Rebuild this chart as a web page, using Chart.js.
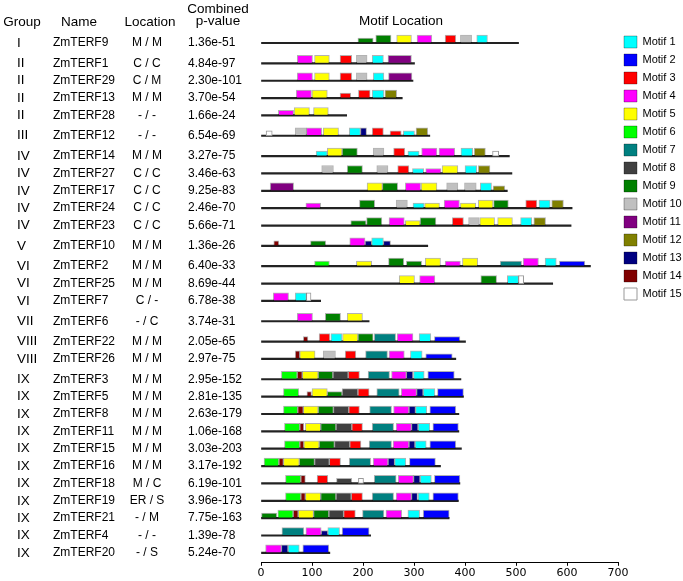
<!DOCTYPE html>
<html>
<head>
<meta charset="utf-8">
<script src="https://cdn.jsdelivr.net/npm/chart.js@4.4.1/dist/chart.umd.min.js"></script>
<style>
  html, body { margin: 0; padding: 0; background: #fff; }
  canvas { display: block; }
</style>
</head>
<body>
<canvas id="motifs" width="683" height="581"></canvas>
<script>
// ---- data ----
const groups = ['I', 'II', 'II', 'II', 'II', 'III', 'IV', 'IV', 'IV', 'IV', 'IV', 'V', 'VI', 'VI', 'VI', 'VII',
  'VIII', 'VIII', 'IX', 'IX', 'IX', 'IX', 'IX', 'IX', 'IX', 'IX', 'IX', 'IX', 'IX'];
const names = ['ZmTERF9', 'ZmTERF1', 'ZmTERF29', 'ZmTERF13', 'ZmTERF28', 'ZmTERF12', 'ZmTERF14', 'ZmTERF27',
  'ZmTERF17', 'ZmTERF24', 'ZmTERF23', 'ZmTERF10', 'ZmTERF2', 'ZmTERF25', 'ZmTERF7', 'ZmTERF6', 'ZmTERF22',
  'ZmTERF26', 'ZmTERF3', 'ZmTERF5', 'ZmTERF8', 'ZmTERF11', 'ZmTERF15', 'ZmTERF16', 'ZmTERF18', 'ZmTERF19',
  'ZmTERF21', 'ZmTERF4', 'ZmTERF20'];
const locations = ['M / M', 'C / C', 'C / M', 'M / M', '- / -', '- / -', 'M / M', 'C / C', 'C / C', 'C / C',
  'C / C', 'M / M', 'M / M', 'M / M', 'C / -', '- / C', 'M / M', 'M / M', 'M / M', 'M / M', 'M / M', 'M / M',
  'M / M', 'M / M', 'M / C', 'ER / S', '- / M', '- / -', '- / S'];
const pValues = ['1.36e-51', '4.84e-97', '2.30e-101', '3.70e-54', '1.66e-24', '6.54e-69', '3.27e-75',
  '3.46e-63', '9.25e-83', '2.46e-70', '5.66e-71', '1.36e-26', '6.40e-33', '8.69e-44', '6.78e-38', '3.74e-31',
  '2.05e-65', '2.97e-75', '2.95e-152', '2.81e-135', '2.63e-179', '1.06e-168', '3.03e-203', '3.17e-192',
  '6.19e-101', '3.96e-173', '7.75e-163', '1.39e-78', '5.24e-70'];
// protein length (aa)
const lengths = [505, 301, 298, 277, 168, 331, 487, 492, 483, 610, 608, 327, 646, 572, 117, 212, 401, 382,
  392, 397, 388, 388, 393, 352, 390, 387, 369, 215, 135];
// motif hits per protein: [motif, start, end, weak(1 = lower box)]
const motifHits = [
  [[9,190,220,1],[9,225,255],[5,266,295],[4,306,335],[3,361,382],[10,391,413],[1,423,444]],
  [[4,71,101],[5,105,134],[3,155,178],[10,187,208],[1,218,240],[11,249,295]],
  [[4,71,101],[5,105,134],[3,155,178],[10,187,208],[1,220,241],[11,250,296]],
  [[4,69,99],[5,100,130],[3,155,176,1],[3,191,214],[1,218,241],[12,243,266]],
  [[4,34,64,1],[5,65,95],[5,103,132]],
  [[15,10,22,1],[10,67,89],[4,89,119],[5,122,152],[1,173,195],[13,195,207],[3,218,240],[3,253,275,1],[1,279,301,1],[12,304,327]],
  [[1,108,130,1],[5,130,159],[9,159,189],[10,220,241],[3,260,282],[1,288,310,1],[4,315,345],[4,349,380],[1,392,415],[12,418,440],[15,454,466,1]],
  [[10,119,142],[9,169,199],[10,227,249],[3,268,290],[1,297,319,1],[4,323,353,1],[5,355,386],[1,400,423],[12,426,449]],
  [[11,18,64],[5,208,238],[9,238,268],[4,283,313],[5,314,345],[10,364,386],[10,399,422],[1,430,452],[12,455,478,1]],
  [[4,88,117,1],[9,193,223],[10,265,287],[1,298,320,1],[5,321,350,1],[4,359,389],[5,391,421,1],[5,426,455],[9,456,485],[3,519,541],[1,545,567],[12,570,593]],
  [[9,176,206,1],[9,207,237],[4,251,281],[5,283,312,1],[9,312,343],[3,375,397],[10,407,428],[5,429,458],[5,464,493],[1,509,531],[12,535,558]],
  [[14,25,35,1],[9,97,127,1],[4,174,204],[13,204,217,1],[1,217,240],[13,240,254,1]],
  [[6,105,134,1],[5,187,217,1],[9,250,280],[9,285,315,1],[5,322,352],[4,361,391,1],[5,395,425],[7,469,511,1],[4,514,544],[1,557,579],[2,585,635,1]],
  [[5,271,301],[4,311,341],[9,431,462],[1,483,505],[15,505,515]],
  [[4,24,54],[1,67,89],[15,89,98]],
  [[4,71,101],[9,126,156],[5,169,199]],
  [[14,83,92,1],[3,114,135],[1,137,159],[5,160,190],[9,190,220],[7,222,264],[4,267,298],[1,310,333],[2,340,390,1]],
  [[14,67,76],[5,76,106],[10,122,146],[3,165,186],[7,205,248],[4,251,281],[1,293,316],[2,323,375,1]],
  [[6,40,71],[14,71,81],[5,81,112],[9,112,141],[8,141,171],[3,171,193],[7,210,252],[4,256,285],[13,285,298],[1,299,320],[2,327,379]],
  [[6,44,74],[14,90,99,1],[5,100,130],[9,130,159,1],[8,159,190],[3,190,212],[7,227,271],[4,275,305],[13,305,318],[1,318,341],[2,346,397]],
  [[6,44,72],[14,72,83],[5,83,112],[9,112,142],[8,142,172],[3,172,193],[7,213,256],[4,260,290],[13,290,303],[1,303,325],[2,331,382]],
  [[6,46,76],[14,76,84],[5,87,117],[9,117,147],[8,147,178],[3,178,199],[7,218,260],[4,265,295],[13,295,308],[1,308,331],[2,337,387]],
  [[6,46,76],[14,76,84],[5,84,114],[9,114,144],[8,144,174],[3,174,196],[7,212,256],[4,259,290],[13,290,302],[1,302,324],[2,331,382]],
  [[6,6,35],[14,35,44],[5,44,75],[9,75,105],[8,105,134],[3,134,156],[7,173,215],[4,220,249],[13,249,262],[1,262,284],[2,291,342]],
  [[6,48,78],[14,78,87],[3,110,131],[8,148,178,1],[15,191,201,1],[7,222,265],[4,269,299],[13,299,312],[1,312,334],[2,340,390]],
  [[6,48,78],[14,78,87],[5,87,117],[9,117,147],[8,147,177],[3,177,199],[7,218,260],[4,265,295],[13,295,307],[1,308,330],[2,337,387]],
  [[9,0,31,1],[6,33,63],[14,63,73],[5,73,103],[9,103,133],[8,133,162],[3,162,185],[7,199,241],[4,245,276],[1,288,311],[2,318,369]],
  [[7,41,84],[4,88,118],[13,118,131,1],[1,131,154],[2,159,212]],
  [[4,9,40],[13,40,53],[1,53,75],[2,82,133]]
];
const motifLabels = ['Motif 1', 'Motif 2', 'Motif 3', 'Motif 4', 'Motif 5', 'Motif 6', 'Motif 7', 'Motif 8',
  'Motif 9', 'Motif 10', 'Motif 11', 'Motif 12', 'Motif 13', 'Motif 14', 'Motif 15'];
const xTicks = [0, 100, 200, 300, 400, 500, 600, 700];

// ---- styles ----
const motifColors = ['#00ffff', '#0000ff', '#ff0000', '#ff00ff', '#ffff00', '#00ff00', '#008080', '#404040',
  '#008000', '#c0c0c0', '#800080', '#808000', '#000080', '#800000', '#ffffff'];
const FONT = '"Liberation Sans", Arial, sans-serif';
const PLOT_TOP = 30, PLOT_BOTTOM = 565;
const GROUP_GAP = 0.17;
const BOX_H = 8, WEAK_H = 5;

// row positions: one unit per protein, a little extra between groups
const rowPos = [];
let gapCount = 0;
groups.forEach((g, i) => {
  if (i > 0 && g !== groups[i - 1]) gapCount++;
  rowPos.push(i + gapCount * GROUP_GAP);
});
const yMin = -0.75;
const yMax = rowPos[rowPos.length - 1] + 0.57;
const pxPerRow = (PLOT_BOTTOM - PLOT_TOP) / (yMax - yMin);

function motifData(m, weak) {
  const h = weak ? WEAK_H : BOX_H;
  const out = [];
  motifHits.forEach((hits, i) => {
    hits.forEach(hit => {
      if (hit[0] === m && !!hit[3] === weak) {
        // box sits on top of the protein line
        out.push({ x: [hit[1], hit[2]], y: rowPos[i] - h / 2 / pxPerRow });
      }
    });
  });
  return out;
}

const datasets = [];
[false, true].forEach(weak => {
  motifLabels.forEach((label, k) => {
    datasets.push({
      label,
      data: motifData(k + 1, weak),
      backgroundColor: motifColors[k],
      borderColor: k === 14 ? '#999' : 'rgba(0,0,0,0.3)',
      borderWidth: 1,
      borderSkipped: false,
      barThickness: weak ? WEAK_H : BOX_H,
      stack: 'row',
      order: 0,
      inLegend: !weak
    });
  });
});
datasets.push({
  label: 'length',
  data: lengths.map((len, i) => ({ x: [0, len], y: rowPos[i] })),
  backgroundColor: '#222',
  borderWidth: 0,
  barThickness: 1.5,
  stack: 'row',
  order: 1,
  inLegend: false
});

const textColumns = {
  id: 'textColumns',
  afterDraw(chart) {
    const ctx = chart.ctx;
    const y = chart.scales.y;
    ctx.save();
    ctx.fillStyle = '#000';
    ctx.textBaseline = 'middle';
    ctx.font = '13.5px ' + FONT;
    ctx.textAlign = 'center';
    ctx.fillText('Group', 22, 22);
    ctx.fillText('Name', 79, 22);
    ctx.fillText('Location', 150, 22);
    ctx.fillText('Combined', 218, 9);
    ctx.fillText('p-value', 218, 21);
    ctx.fillText('Motif Location', 401, 21);

    names.forEach((name, i) => {
      const py = y.getPixelForValue(rowPos[i]);
      ctx.font = '13.5px ' + FONT;
      ctx.textAlign = 'left';
      ctx.fillText(groups[i], 17, py);
      ctx.font = '12px ' + FONT;
      ctx.fillText(name, 53, py);
      ctx.fillText(pValues[i], 188, py);
      ctx.textAlign = 'center';
      ctx.fillText(locations[i], 147, py);
    });
    ctx.restore();
  }
};

new Chart(document.getElementById('motifs'), {
  type: 'bar',
  data: { datasets },
  options: {
    indexAxis: 'y',
    responsive: false,
    animation: false,
    layout: { padding: { left: 261, top: PLOT_TOP, right: 0, bottom: 0 } },
    plugins: {
      tooltip: { enabled: false },
      legend: {
        position: 'right',
        align: 'start',
        maxWidth: 65,
        labels: {
          boxWidth: 13,
          boxHeight: 12,
          padding: 6,
          color: '#000',
          font: { family: FONT, size: 11 },
          filter: (item, data) => data.datasets[item.datasetIndex].inLegend
        }
      }
    },
    scales: {
      x: {
        type: 'linear',
        min: 0,
        max: 700,
        stacked: false,
        afterBuildTicks: axis => { axis.ticks = xTicks.map(v => ({ value: v })); },
        grid: { drawOnChartArea: false, drawTicks: true, tickLength: 3, color: '#000' },
        border: { display: true, color: '#000', width: 1 },
        ticks: { padding: 1, color: '#000', font: { family: 'DejaVu Sans', size: 11 } }
      },
      y: {
        type: 'linear',
        reverse: true,
        offset: false,
        min: yMin,
        max: yMax,
        display: false
      }
    }
  },
  plugins: [textColumns]
});
</script>
</body>
</html>
